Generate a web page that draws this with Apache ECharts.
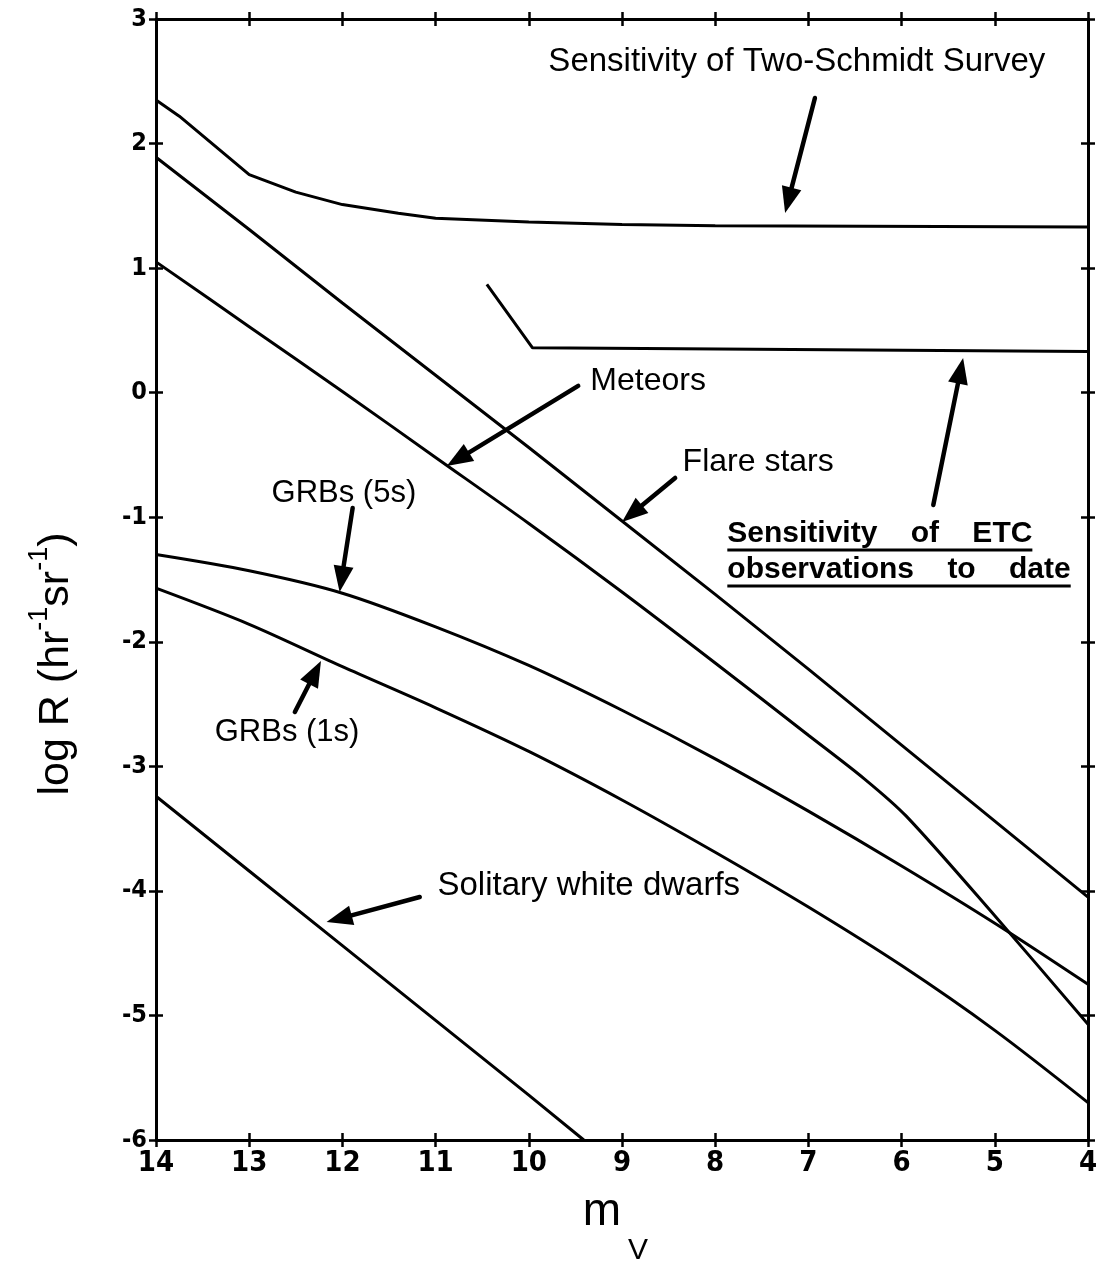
<!DOCTYPE html>
<html><head><meta charset="utf-8">
<script src="https://cdn.jsdelivr.net/npm/echarts@6/dist/echarts.min.js"></script>
<style>html,body{margin:0;padding:0;background:#fff}#c{width:1107px;height:1264px}</style>
</head><body><div id="c"></div>
<script>
// ---- data (visual magnitude m_V vs log R) ----
const xTicks = [14, 13, 12, 11, 10, 9, 8, 7, 6, 5, 4];
const yTicks = [3, 2, 1, 0, -1, -2, -3, -4, -5, -6];

const twoSchmidtMag  = [14, 13.75, 13, 12.5, 12, 11.4, 11, 10, 9, 8, 4];
const twoSchmidtLogR = [2.35, 2.22, 1.75, 1.61, 1.51, 1.44, 1.40, 1.37, 1.35, 1.34, 1.33];

const etcMag  = [10.45, 9.96, 4];
const etcLogR = [0.87, 0.36, 0.33];

const flareMag  = [14, 13, 12, 11, 10, 9, 8, 7, 6, 5, 4];
const flareLogR = [1.89, 1.31, 0.72, 0.14, -0.44, -1.03, -1.62, -2.22, -2.83, -3.44, -4.05];

const meteorMag  = [14, 13, 12, 11, 10, 9, 8, 7, 6.4, 5.95, 5, 4];
const meteorLogR = [1.05, 0.53, 0.01, -0.52, -1.05, -1.60, -2.17, -2.75, -3.10, -3.40, -4.20, -5.07];

const grb5Mag  = [14, 13, 12, 11, 10, 9, 8, 7, 6, 5, 4];
const grb5LogR = [-1.30, -1.43, -1.61, -1.88, -2.19, -2.55, -2.94, -3.36, -3.80, -4.26, -4.75];

const grb1Mag  = [14, 13, 12, 11, 10, 9, 8, 7, 6, 5, 4];
const grb1LogR = [-1.57, -1.86, -2.20, -2.53, -2.88, -3.27, -3.69, -4.13, -4.60, -5.12, -5.70];

const wdMag  = [14, 13, 12, 11, 10, 9.41];
const wdLogR = [-3.24, -3.84, -4.44, -5.04, -5.64, -6.0];

// ---- chart ----
const chart = echarts.init(document.getElementById('c'), null, {renderer: 'canvas'});
const TICK_FONT = "'Liberation Sans Narrow','DejaVu Sans Condensed','Liberation Sans',sans-serif";
const TEXT_FONT = "'Liberation Sans',Arial,sans-serif";

function pair(xs, ys) { return xs.map((x, i) => [x, ys[i]]); }
function lineSeries(name, xs, ys, smooth) {
  return {
    type: 'line', name: name, data: pair(xs, ys), symbol: 'none', showSymbol: false,
    smooth: smooth || false,
    lineStyle: {color: '#000', width: 3}, silent: true, animation: false, clip: true, z: 3
  };
}

const xMin = Math.min(...xTicks), xMax = Math.max(...xTicks);
const yMin = Math.min(...yTicks), yMax = Math.max(...yTicks);

function xAx(pos, inside, labels, line) {
  return {
    type: 'value', position: pos, inverse: true, min: xMin, max: xMax, interval: 1,
    axisLine: {show: line, onZero: false, lineStyle: {color: '#000', width: 3}},
    axisTick: {show: true, inside: inside, length: 7, lineStyle: {color: '#000', width: 2.5}},
    axisLabel: {show: labels, margin: 9, color: '#000', fontSize: 29, fontWeight: 'bold', fontFamily: TICK_FONT},
    splitLine: {show: false}
  };
}
function yAx(pos, inside, labels, line) {
  return {
    type: 'value', position: pos, min: yMin, max: yMax, interval: 1,
    axisLine: {show: line, onZero: false, lineStyle: {color: '#000', width: 3}},
    axisTick: {show: true, inside: inside, length: 7, lineStyle: {color: '#000', width: 2.5}},
    axisLabel: {show: labels, margin: 9, color: '#000', fontSize: 25, fontWeight: 'bold', fontFamily: TICK_FONT},
    splitLine: {show: false}
  };
}

chart.setOption({
  backgroundColor: '#fff',
  animation: false,
  grid: {left: 156, top: 19, width: 932, height: 1121, containLabel: false, outerBoundsMode: 'none'},
  xAxis: [xAx('bottom', false, true, true), xAx('bottom', true, false, false),
          xAx('top', false, false, true), xAx('top', true, false, false)],
  yAxis: [yAx('left', false, true, true), yAx('left', true, false, false),
          yAx('right', false, false, true), yAx('right', true, false, false)],
  series: [
    lineSeries('Two-Schmidt', twoSchmidtMag, twoSchmidtLogR, false),
    lineSeries('ETC', etcMag, etcLogR, false),
    lineSeries('Flare stars', flareMag, flareLogR, false),
    lineSeries('Meteors', meteorMag, meteorLogR, 0.3),
    lineSeries('GRBs (5s)', grb5Mag, grb5LogR, 0.3),
    lineSeries('GRBs (1s)', grb1Mag, grb1LogR, 0.3),
    lineSeries('Solitary white dwarfs', wdMag, wdLogR, false)
  ]
});

// ---- annotations (placed in data coordinates) ----
function px(p) { return chart.convertToPixel({gridIndex: 0}, p); }

function arrow(tail, head) {
  const [tx, ty] = px(tail), [hx, hy] = px(head);
  const dx = hx - tx, dy = hy - ty, L = Math.hypot(dx, dy), ux = dx / L, uy = dy / L;
  const hl = 26, hw = 10;
  const bx = hx - ux * hl, by = hy - uy * hl, nx = -uy, ny = ux;
  return [
    {type: 'line', z: 10, shape: {x1: tx, y1: ty, x2: bx + ux * 3, y2: by + uy * 3},
     style: {stroke: '#000', lineWidth: 4.5, lineCap: 'round'}},
    {type: 'polygon', z: 10, shape: {points: [[hx, hy], [bx + nx * hw, by + ny * hw], [bx - nx * hw, by - ny * hw]]},
     style: {fill: '#000'}}
  ];
}
function label(text, at, size, weight) {
  const [x, y] = px(at);
  return {type: 'text', z: 10, x: x, y: y,
    style: {text: text, fill: '#000', fontSize: size || 32, fontWeight: weight || 'normal',
            fontFamily: TEXT_FONT, textAlign: 'left', textVerticalAlign: 'middle'}};
}
const measure = (() => { const c = document.createElement('canvas').getContext('2d');
  return (t, f) => { c.font = f; return c.measureText(t).width; }; })();

const g = [];
g.push(label('Sensitivity of Two-Schmidt Survey', [9.79, 2.655], 33));
g.push(...arrow([6.93, 2.366], [7.25, 1.443]));
g.push(label('Meteors', [9.34, 0.09]));
g.push(...arrow([9.47, 0.054], [10.88, -0.589]));
g.push(label('Flare stars', [8.35, -0.556]));
g.push(...arrow([8.43, -0.685], [9.0, -1.038]));
g.push(label('GRBs (5s)', [12.76, -0.813], 31));
g.push(...arrow([11.89, -0.926], [12.03, -1.60]));
g.push(label('GRBs (1s)', [13.37, -2.73], 31));
g.push(...arrow([12.51, -2.563], [12.23, -2.154]));
g.push(label('Solitary white dwarfs', [10.98, -3.96], 33));
g.push(...arrow([11.17, -4.049], [12.17, -4.25]));
g.push(...arrow([5.66, -0.902], [5.34, 0.278]));

// ETC sensitivity text (bold, underlined)
const etcLines = ['Sensitivity    of    ETC', 'observations    to    date'];
const etcAt = [[7.87, -1.13], [7.87, -1.42]];
etcLines.forEach((t, i) => {
  g.push(label(t, etcAt[i], 30, 'bold'));
  const [x, y] = px(etcAt[i]);
  const w = measure(t, 'bold 30px ' + TEXT_FONT);
  g.push({type: 'rect', z: 10, shape: {x: x, y: y + 15, width: w, height: 3}, style: {fill: '#000'}});
});

// axis titles
g.push({type: 'text', z: 10, x: 52, y: 664, rotation: Math.PI / 2,
  style: {text: '{a|log R (hr}{s|-1}{a|sr}{s|-1}{a|)}', textAlign: 'center', textVerticalAlign: 'middle',
    rich: {a: {fontSize: 43, fontFamily: TEXT_FONT, fill: '#000', lineHeight: 52, verticalAlign: 'bottom'},
           s: {fontSize: 27, fontFamily: TEXT_FONT, fill: '#000', lineHeight: 52, verticalAlign: 'top'}}}});
g.push({type: 'text', z: 10, x: 602, y: 1212,
  style: {text: 'm', fontSize: 46, fontFamily: TEXT_FONT, fill: '#000', textAlign: 'center', textVerticalAlign: 'middle'}});
g.push({type: 'text', z: 10, x: 638, y: 1251,
  style: {text: 'V', fontSize: 30, fontFamily: TEXT_FONT, fill: '#000', textAlign: 'center', textVerticalAlign: 'middle'}});

chart.setOption({graphic: g});
</script></body></html>
